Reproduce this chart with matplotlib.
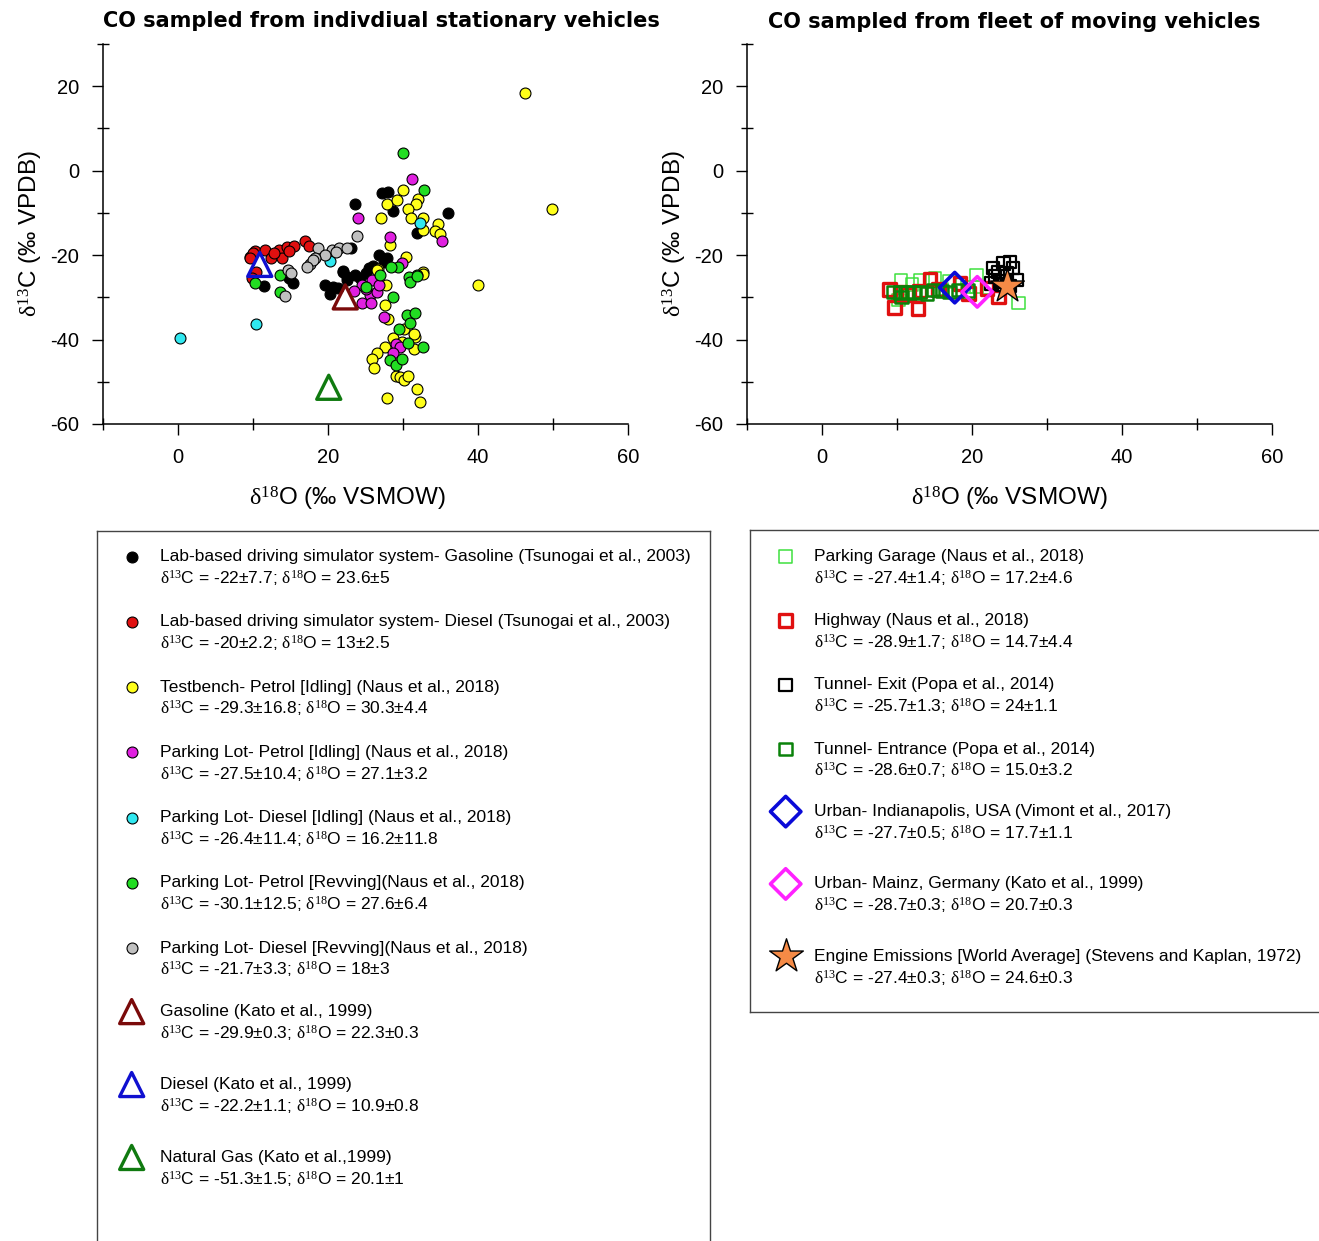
import matplotlib
matplotlib.use('Agg')
import matplotlib.pyplot as plt
from matplotlib.lines import Line2D
from matplotlib.legend import Legend
from matplotlib.ticker import FixedLocator

plt.rcParams['font.family'] = ['Liberation Sans', 'DejaVu Sans']
plt.rcParams['mathtext.fontset'] = 'custom'
plt.rcParams['mathtext.rm'] = 'Liberation Serif'
plt.rcParams['mathtext.it'] = 'Liberation Serif:italic'
plt.rcParams['mathtext.bf'] = 'Liberation Serif:bold'
plt.rcParams['axes.unicode_minus'] = False

# ---------------- data: individual stationary vehicles ----------------
gas_lab_x = [27.2, 28.0, 28.6, 36.0, 23.6, 31.8, 27.8, 27.4, 22.0, 23.0, 11.5, 15.3, 22.0,
             19.6, 20.7, 20.3, 22.5, 24.3, 25.1, 22.5, 23.6, 26.0, 26.8, 25.5, 21.3, 14.8]
gas_lab_y = [-5.3, -5.0, -9.5, -10.0, -8.0, -14.7, -20.8, -21.6, -23.7, -18.4, -27.2, -26.7, -24.0,
             -27.1, -27.5, -29.1, -25.9, -25.5, -24.3, -25.1, -24.7, -22.5, -20.0, -23.0, -27.8, -25.5]

die_lab_x = [10.3, 11.6, 13.4, 14.5, 15.4, 16.9, 17.4, 12.4, 13.8, 9.6, 10.0, 9.6, 10.4, 9.8, 12.8, 14.8]
die_lab_y = [-19.1, -18.8, -18.7, -18.0, -17.9, -16.7, -17.9, -20.8, -20.8, -20.4, -19.6, -20.8,
             -24.0, -25.5, -19.5, -19.0]

tb_pet_x = [46.3, 49.9, 40.0, 30.0, 27.8, 29.2, 32.0, 31.7, 30.7, 27.1, 31.0, 32.7, 32.6, 34.7,
            34.3, 34.9, 28.2, 30.4, 26.7, 32.6, 32.7, 27.7, 26.5, 27.6, 28.0, 30.1, 31.6, 28.6,
            31.4, 27.6, 26.5, 25.9, 26.1, 29.1, 29.6, 30.1, 30.7, 31.8, 27.8, 32.3, 31.5, 29.8]
tb_pet_y = [18.3, -9.1, -27.1, -4.6, -7.9, -7.0, -6.6, -7.9, -9.0, -11.3, -11.2, -11.2, -14.1, -12.7,
            -14.2, -15.1, -17.6, -20.4, -23.2, -24.1, -24.5, -27.1, -23.5, -31.8, -35.1, -37.6, -39.3, -39.7,
            -42.3, -41.8, -43.3, -44.5, -46.7, -48.6, -48.9, -49.6, -48.6, -51.8, -53.8, -54.7, -38.8, -40.5]

pl_pet_idle_x = [31.2, 24.0, 28.2, 29.9, 35.2, 25.8, 24.5, 25.6, 26.5, 24.5, 25.7, 23.4, 27.4,
                 29.1, 29.6, 28.7, 26.8, 25.0]
pl_pet_idle_y = [-1.9, -11.2, -15.7, -21.8, -16.7, -25.9, -27.1, -29.5, -28.7, -31.4, -31.4, -28.4,
                 -34.6, -41.1, -41.8, -43.3, -27.0, -28.0]

pl_die_idle_x = [0.3, 10.4, 20.3, 32.2]
pl_die_idle_y = [-39.7, -36.4, -21.3, -12.5]

pl_pet_rev_x = [30.0, 32.8, 29.3, 28.4, 31.8, 30.8, 10.3, 13.6, 13.6, 26.9, 25.1, 28.7, 30.9, 31.8,
                30.5, 31.6, 30.9, 29.4, 30.7, 32.6, 28.3, 29.1, 29.8]
pl_pet_rev_y = [4.3, -4.5, -22.9, -22.9, -24.7, -25.3, -26.7, -24.6, -28.7, -24.7, -27.5, -29.9, -26.3,
                -25.0, -34.2, -33.8, -36.0, -37.6, -40.8, -41.8, -44.9, -46.0, -44.5]

pl_die_rev_x = [18.7, 20.5, 21.4, 22.5, 19.6, 18.3, 17.6, 18.0, 14.7, 15.1, 14.3, 23.8, 17.2, 21.0]
pl_die_rev_y = [-18.4, -18.8, -18.4, -18.4, -20.0, -20.8, -22.2, -21.2, -23.6, -24.2, -29.6, -15.4,
                -22.8, -19.2]

kato_gas = (22.3, -29.9)
kato_die = (10.9, -22.2)
kato_ng = (20.1, -51.3)

# ---------------- data: fleets of moving vehicles ----------------
garage_x = [10.5, 13.1, 15.1, 20.6, 26.2, 10.2, 19.3, 20.6, 12.0, 17.0, 22.0, 16.0]
garage_y = [-25.9, -25.9, -25.5, -24.7, -31.4, -30.6, -27.5, -27.5, -27.0, -26.2, -27.8, -28.0]

highway_x = [9.0, 9.7, 12.8, 14.4, 18.4, 23.5, 10.5, 13.0, 15.5, 19.5, 22.0, 11.5]
highway_y = [-28.1, -32.4, -32.6, -25.8, -26.7, -29.9, -28.8, -28.5, -28.2, -29.0, -28.0, -29.3]

tunnel_exit_x = [22.8, 24.2, 25.1, 25.5, 23.1, 24.6, 26.0, 22.6, 23.7, 24.0, 25.0, 23.5]
tunnel_exit_y = [-23.1, -22.0, -21.6, -23.1, -25.1, -24.3, -25.9, -26.7, -26.3, -27.0, -27.3, -24.0]

tunnel_ent_x = [9.5, 10.4, 11.3, 12.2, 13.1, 14.0, 14.8, 18.2, 10.6, 16.0, 17.0, 19.5]
tunnel_ent_y = [-28.7, -28.9, -28.7, -28.9, -28.7, -29.1, -28.3, -28.3, -29.9, -28.5, -28.8, -28.4]

indy = (17.7, -27.7)
mainz = (20.7, -28.7)
engine = (24.6, -27.4)

left_titles = [
    "Lab-based driving simulator system- Gasoline (Tsunogai et al., 2003)",
    "Lab-based driving simulator system- Diesel (Tsunogai et al., 2003)",
    "Testbench- Petrol [Idling] (Naus et al., 2018)",
    "Parking Lot- Petrol [Idling] (Naus et al., 2018)",
    "Parking Lot- Diesel [Idling] (Naus et al., 2018)",
    "Parking Lot- Petrol [Revving](Naus et al., 2018)",
    "Parking Lot- Diesel [Revving](Naus et al., 2018)",
]
left_stats = ["-22±7.7", "23.6±5", "-20±2.2", "13±2.5", "-29.3±16.8", "30.3±4.4",
              "-27.5±10.4", "27.1±3.2", "-26.4±11.4", "16.2±11.8", "-30.1±12.5", "27.6±6.4",
              "-21.7±3.3", "18±3"]
tri_titles = ["Gasoline (Kato et al., 1999)", "Diesel (Kato et al., 1999)",
              "Natural Gas (Kato et al.,1999)"]
tri_stats = ["-29.9±0.3", "22.3±0.3", "-22.2±1.1", "10.9±0.8", "-51.3±1.5", "20.1±1"]
sq_titles = ["Parking Garage (Naus et al., 2018)", "Highway (Naus et al., 2018)",
             "Tunnel- Exit (Popa et al., 2014)", "Tunnel- Entrance (Popa et al., 2014)"]
sq_stats = ["-27.4±1.4", "17.2±4.6", "-28.9±1.7", "14.7±4.4", "-25.7±1.3", "24±1.1",
            "-28.6±0.7", "15.0±3.2"]
big_titles = ["Urban- Indianapolis, USA (Vimont et al., 2017)",
              "Urban- Mainz, Germany (Kato et al., 1999)",
              "Engine Emissions [World Average] (Stevens and Kaplan, 1972)"]
big_stats = ["-27.7±0.5", "17.7±1.1", "-28.7±0.3", "20.7±0.3", "-27.4±0.3", "24.6±0.3"]

# ---------------- figure ----------------
W, H = 1319, 1241
fig = plt.figure(figsize=(W / 100, H / 100), dpi=100)


def fx(p):
    return p / W


def fy(p):
    return 1 - p / H


def style(ax, xlab_x):
    ax.set_xlim(-10, 60)
    ax.set_ylim(-60, 30)
    for s in ['top', 'right']:
        ax.spines[s].set_visible(False)
    for s in ['left', 'bottom']:
        ax.spines[s].set_linewidth(1.1)
    ax.xaxis.set_major_locator(FixedLocator([0, 20, 40, 60]))
    ax.xaxis.set_minor_locator(FixedLocator([-10, 10, 30, 50]))
    ax.yaxis.set_major_locator(FixedLocator([-60, -40, -20, 0, 20]))
    ax.yaxis.set_minor_locator(FixedLocator([-50, -30, -10, 10, 30]))
    ax.tick_params(which='major', direction='out', length=8, width=1.0, labelsize=14.5, pad=9)
    ax.tick_params(which='minor', direction='inout', length=9, width=1.0)
    ax.set_xlabel(r'$\mathrm{\delta}^{18}$O (‰ VSMOW)', fontsize=17.5)
    ax.set_ylabel(r'$\mathrm{\delta}^{13}$C (‰ VPDB)', fontsize=17.5)
    ax.xaxis.set_label_coords(xlab_x, -0.16)
    ax.yaxis.set_label_coords(-0.11, 0.5)


axL = fig.add_axes([fx(103), fy(424), fx(628) - fx(103), fy(44) - fy(424)])
axR = fig.add_axes([fx(747), fy(424), fx(1272) - fx(747), fy(44) - fy(424)])
style(axL, 0.465)
style(axR, 0.5)

ckw = dict(s=62, edgecolors='black', linewidths=0.8, zorder=3)
h1 = axL.scatter(gas_lab_x, gas_lab_y, c='#000000', **ckw)
h2 = axL.scatter(die_lab_x, die_lab_y, c='#e01010', **ckw)
h3 = axL.scatter(tb_pet_x, tb_pet_y, c='#ffff1a', **ckw)
h4 = axL.scatter(pl_pet_idle_x, pl_pet_idle_y, c='#e020e0', **ckw)
h5 = axL.scatter(pl_die_idle_x, pl_die_idle_y, c='#30e8f0', **ckw)
h6 = axL.scatter(pl_pet_rev_x, pl_pet_rev_y, c='#22dd22', **ckw)
h7 = axL.scatter(pl_die_rev_x, pl_die_rev_y, c='#c0c0c0', **ckw)
tkw = dict(s=300, marker='^', facecolors='none', linewidths=2.4, zorder=4)
t1 = axL.scatter([kato_gas[0]], [kato_gas[1]], edgecolors='#7a0a0a', **tkw)
t2 = axL.scatter([kato_die[0]], [kato_die[1]], edgecolors='#1010d0', **tkw)
t3 = axL.scatter([kato_ng[0]], [kato_ng[1]], edgecolors='#107a10', **tkw)

q1 = axR.scatter(garage_x, garage_y, s=80, marker='s', facecolors='none',
                 edgecolors='#3ee03e', linewidths=1.1, zorder=3)
q2 = axR.scatter(highway_x, highway_y, s=85, marker='s', facecolors='none',
                 edgecolors='#e01010', linewidths=2.4, zorder=3)
q3 = axR.scatter(tunnel_exit_x, tunnel_exit_y, s=80, marker='s', facecolors='none',
                 edgecolors='#000000', linewidths=1.6, zorder=3)
q4 = axR.scatter(tunnel_ent_x, tunnel_ent_y, s=80, marker='s', facecolors='none',
                 edgecolors='#0a820a', linewidths=1.8, zorder=3)
d1 = axR.scatter([indy[0]], [indy[1]], s=240, marker='D', facecolors='none',
                 edgecolors='#0a0ad8', linewidths=2.6, zorder=4)
d2 = axR.scatter([mainz[0]], [mainz[1]], s=240, marker='D', facecolors='none',
                 edgecolors='#ff22ff', linewidths=2.6, zorder=4)
d3 = axR.scatter([engine[0]], [engine[1]], s=650, marker='*', c='#f58a46',
                 edgecolors='black', linewidths=1.0, zorder=5)

tfont = dict(family=['DejaVu Sans'], fontsize=15, fontweight='bold')
fig.text(fx(381), fy(21), "CO sampled from indivdiual stationary vehicles",
         ha='center', va='center', **tfont)
fig.text(fx(1014), fy(22), "CO sampled from fleet of moving vehicles",
         ha='center', va='center', **tfont)

# legend panels
legL = fig.add_axes([fx(97), fy(1270), fx(710) - fx(97), fy(531) - fy(1270)])
legR = fig.add_axes([fx(750), fy(1012), fx(1340) - fx(750), fy(530) - fy(1012)])
for a in (legL, legR):
    a.set_xticks([])
    a.set_yticks([])
    for s in a.spines.values():
        s.set_linewidth(1.0)
        s.set_color('#444444')

blank = Line2D([], [], linestyle='none', marker='None')


def stat_line(c, o):
    return r'$\mathrm{\delta}^{13}$C = ' + c + r'; $\mathrm{\delta}^{18}$O = ' + o


def add_legend(ax, handles, titles, stats, x0, y0, gap_ls):
    hs, ls = [], []
    for i, (h, t) in enumerate(zip(handles, titles)):
        hs += [h, blank]
        ls += [t, stat_line(stats[2 * i], stats[2 * i + 1]) + '\n ']
    lg = Legend(ax, hs, ls, loc='upper left', bbox_to_anchor=(fx(x0), fy(y0)),
                bbox_transform=fig.transFigure, frameon=False, fontsize=12.5,
                borderpad=0, borderaxespad=0, handlelength=1.0, handletextpad=1.15,
                labelspacing=0.22, scatterpoints=1)
    for i, t in enumerate(lg.get_texts()):
        if i % 2 == 1:
            t.set_linespacing(gap_ls)
    ax.add_artist(lg)
    return lg


add_legend(legL, [h1, h2, h3, h4, h5, h6, h7], left_titles, left_stats, 123, 549, 1.63)
add_legend(legL, [t1, t2, t3], tri_titles, tri_stats, 123, 1004, 2.27)
add_legend(legR, [q1, q2, q3, q4], sq_titles, sq_stats, 777, 549, 1.54)
add_legend(legR, [d1, d2, d3], big_titles, big_stats, 777, 804, 2.22)

fig.savefig('out.png', dpi=100)
